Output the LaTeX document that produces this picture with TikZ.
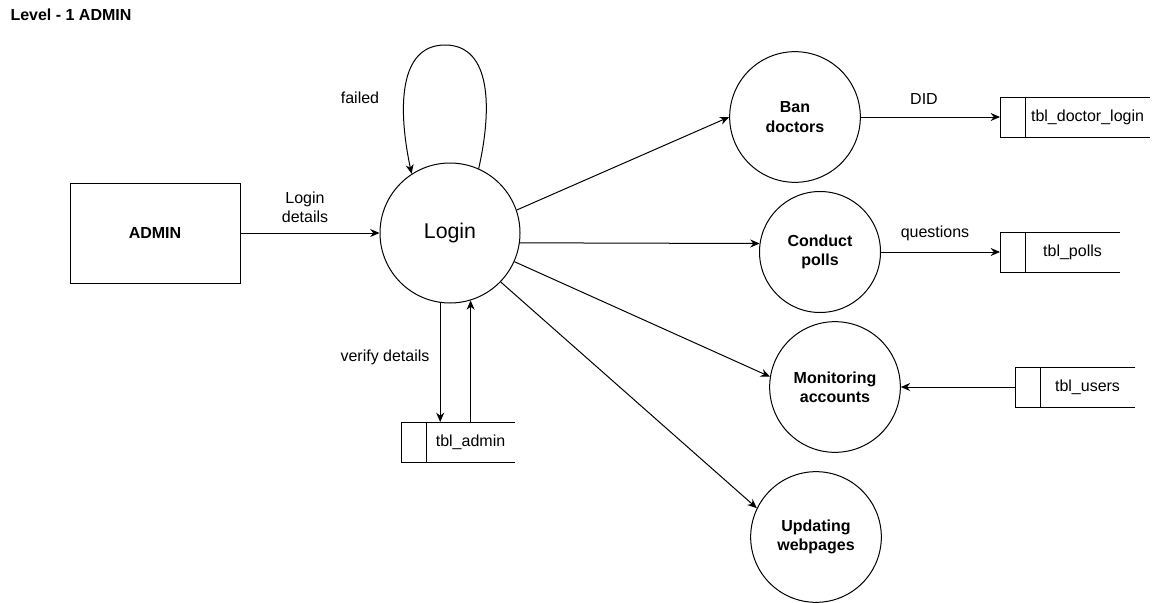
\documentclass[tikz,border=0pt]{standalone}
\usepackage{fontspec}
\setmainfont{Liberation Sans}
\usepackage{tikz}
\usetikzlibrary{arrows.meta}

\begin{document}
\begin{tikzpicture}[x=0.75pt,y=-0.75pt,line width=0.75pt,
  >={Stealth[length=7pt,width=6pt]},
  every node/.style={font=\fontsize{12}{14.4}\selectfont},
  process/.style={circle,draw,align=center,font=\fontsize{12}{14.4}\selectfont\bfseries},
  entity/.style={rectangle,draw,minimum width=127.5pt,minimum height=75pt,font=\fontsize{12}{14.4}\selectfont\bfseries},
  store/.style={rectangle,inner sep=0pt,outer sep=0pt,minimum height=30pt},
  flow/.style={align=center}]
	\useasboundingbox (0,0) rectangle (1160,603);
	\node[anchor=west,inner sep=0pt,font=\fontsize{12}{14.4}\selectfont\bfseries] (title) at (10,15) {Level - 1 ADMIN};
	% external entity and processes
	\node[entity] (admin) at (155,233) {ADMIN};
	\node[circle,draw,minimum size=105pt,font=\fontsize{16}{19}\selectfont] (login) at (450,233) {Login};
	\node[process,minimum size=98pt] (ban) at (795,117) {Ban\\doctors};
	\node[process,minimum size=90.75pt] (polls) at (820,252) {Conduct\\polls};
	\node[process,minimum size=98pt] (monitor) at (835,387) {Monitoring\\accounts};
	\node[process,minimum size=98pt] (update) at (816,537) {Updating\\webpages};
	% data stores
	\node[store,minimum width=112.5pt,label={[xshift=9.4pt]center:tbl\_doctor\_login}] (doctbl) at (1075,117) {};
	\node[store,minimum width=90pt,label={[xshift=9.4pt]center:tbl\_polls}] (pollstbl) at (1060,252) {};
	\node[store,minimum width=90pt,label={[xshift=9.4pt]center:tbl\_users}] (userstbl) at (1075,387) {};
	\node[store,minimum width=85.5pt,label={[xshift=9.4pt]center:tbl\_admin}] (admintbl) at (458,442) {};
	\foreach \s in {doctbl,pollstbl,userstbl,admintbl}
		\draw (\s.north east) -- (\s.north west) -- (\s.south west) -- (\s.south east)
			([xshift=18.75pt]\s.north west) -- ([xshift=18.75pt]\s.south west);
	% flows
	\draw[->] (admin) -- (login);
	\node[flow] (logindet) at (305,207) {Login\\details};
	\draw[->] (login.66) .. controls (492,110) and (492,45) .. (445,45) .. controls (398,45) and (398,110) .. (login.123);
	\node[flow] (failed) at (360,98) {failed};
	\draw[->] (login.19) -- (ban.180);
	\draw[->] (login.-8) -- (polls.172);
	\draw[->] (login.-24) -- (monitor.171);
	\draw[->] (login.-44) -- (update.154);
	\draw[->] (login.-98) -- (login.-98 |- admintbl.north);
	\draw[->] (login.-73 |- admintbl.north) -- (login.-73);
	\node[flow] (verify) at (385,357) {verify details};
	\draw[->] (ban) -- (doctbl);
	\node[flow] (did) at (924,99) {DID};
	\draw[->] (polls) -- (pollstbl);
	\node[flow] (quest) at (935,233) {questions};
	\draw[->] (userstbl) -- (monitor);
\end{tikzpicture}
\end{document}
